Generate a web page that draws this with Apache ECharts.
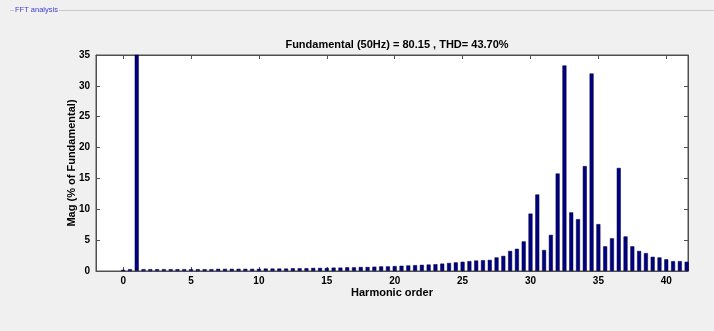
<!DOCTYPE html>
<html>
<head>
<meta charset="utf-8">
<script src="https://cdn.jsdelivr.net/npm/echarts@6/dist/echarts.min.js"></script>
<style>
  html, body { margin: 0; padding: 0; background: #f0f0f0; }
  #main { width: 714px; height: 331px; }
</style>
</head>
<body>
<div id="main"></div>
<script>
// harmonic order (half-step interharmonics) and magnitude in % of fundamental
const ordens = [
  0, 0.5, 1, 1.5, 2, 2.5, 3, 3.5, 4, 4.5, 5, 5.5, 6, 6.5, 7, 7.5, 8, 8.5, 9, 9.5,
  10, 10.5, 11, 11.5, 12, 12.5, 13, 13.5, 14, 14.5, 15, 15.5, 16, 16.5, 17, 17.5, 18, 18.5, 19, 19.5,
  20, 20.5, 21, 21.5, 22, 22.5, 23, 23.5, 24, 24.5, 25, 25.5, 26, 26.5, 27, 27.5, 28, 28.5, 29, 29.5,
  30, 30.5, 31, 31.5, 32, 32.5, 33, 33.5, 34, 34.5, 35, 35.5, 36, 36.5, 37, 37.5, 38, 38.5, 39, 39.5,
  40, 40.5, 41, 41.5
];
const magnitudes = [
  0.2, 0.3, 100, 0.3, 0.3, 0.3, 0.3, 0.3, 0.3, 0.3, 0.3, 0.3, 0.3, 0.3, 0.35, 0.35, 0.35, 0.35, 0.35, 0.35,
  0.35, 0.4, 0.4, 0.4, 0.4, 0.45, 0.45, 0.45, 0.5, 0.5, 0.5, 0.55, 0.55, 0.6, 0.6, 0.65, 0.65, 0.7, 0.75, 0.75,
  0.8, 0.85, 0.9, 0.95, 1.0, 1.05, 1.1, 1.2, 1.3, 1.4, 1.5, 1.6, 1.7, 1.75, 1.8, 2.2, 2.45, 3.25, 3.6, 4.8,
  9.3, 12.4, 3.4, 5.85, 15.8, 33.3, 9.5, 8.4, 17.0, 32.0, 7.6, 4.0, 5.3, 16.7, 5.6, 4.0, 3.25, 2.9, 2.3, 2.2,
  1.9, 1.6, 1.6, 1.5
];
const ticksX = [0, 5, 10, 15, 20, 25, 30, 35, 40];
const titulo = 'Fundamental (50Hz) = 80.15 , THD= 43.70%';

var myChart = echarts.init(document.getElementById('main'));
var option;

var fonte = 'Liberation Sans, Arial, sans-serif';
var linhaEixo = { onZero: false, lineStyle: { color: '#505050', width: 1 } };
var tick = { show: true, inside: true, length: 4, lineStyle: { color: '#505050' } };

option = {
  backgroundColor: '#f0f0f0',
  animation: false,
  title: {
    text: titulo,
    left: 392,
    top: 34,
    textAlign: 'center',
    textStyle: { fontFamily: fonte, fontSize: 11, fontWeight: 'bold', color: '#000' }
  },
  graphic: [
    { type: 'line', shape: { x1: 10, y1: 10.5, x2: 714, y2: 10.5 }, style: { stroke: '#c8c8c8', lineWidth: 1 } },
    {
      type: 'text', left: 14, top: 6,
      style: { text: 'FFT analysis', fill: '#4040d0', font: '7.5px ' + fonte, backgroundColor: '#f0f0f0', padding: [0, 1] }
    }
  ],
  grid: {
    left: 96, right: 26, top: 55, bottom: 60,
    show: true, backgroundColor: '#ffffff', borderColor: '#505050', borderWidth: 1
  },
  xAxis: [
    {
      type: 'value',
      min: -2,
      max: 41.6,
      name: 'Harmonic order',
      nameLocation: 'middle',
      nameGap: 16,
      nameMoveOverlap: false,
      nameTextStyle: { fontFamily: fonte, fontSize: 11, fontWeight: 'bold', color: '#000', verticalAlign: 'top' },
      axisLine: linhaEixo,
      axisTick: Object.assign({ customValues: ticksX }, tick),
      axisLabel: { customValues: ticksX, margin: 5, fontFamily: fonte, fontSize: 10, fontWeight: 'bold', color: '#000' },
      splitLine: { show: false }
    },
    {
      type: 'value',
      position: 'top',
      min: -2,
      max: 41.6,
      axisLine: linhaEixo,
      axisTick: Object.assign({ customValues: ticksX }, tick),
      axisLabel: { show: false },
      splitLine: { show: false }
    }
  ],
  yAxis: [
    {
      type: 'value',
      min: 0,
      max: 35,
      interval: 5,
      name: 'Mag (% of Fundamental)',
      nameLocation: 'middle',
      nameGap: 24,
      nameMoveOverlap: false,
      nameTextStyle: { fontFamily: fonte, fontSize: 11, fontWeight: 'bold', color: '#000', verticalAlign: 'middle' },
      axisLine: Object.assign({ show: true }, linhaEixo),
      axisTick: tick,
      axisLabel: { margin: 6, fontFamily: fonte, fontSize: 10, fontWeight: 'bold', color: '#000' },
      splitLine: { show: false }
    },
    {
      type: 'value',
      position: 'right',
      min: 0,
      max: 35,
      interval: 5,
      axisLine: Object.assign({ show: true }, linhaEixo),
      axisTick: tick,
      axisLabel: { show: false },
      splitLine: { show: false }
    }
  ],
  series: [
    {
      type: 'bar',
      xAxisIndex: 0,
      yAxisIndex: 0,
      barWidth: 4,
      clip: true,
      itemStyle: { color: '#000080', borderColor: '#00003a', borderWidth: 0.5 },
      data: ordens.map((o, i) => [o, magnitudes[i]])
    }
  ]
};

option && myChart.setOption(option);
</script>
</body>
</html>
